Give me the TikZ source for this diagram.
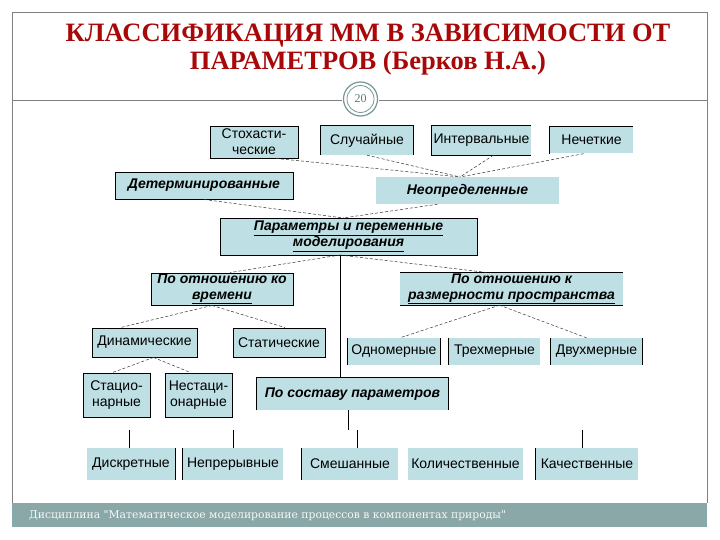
\documentclass[tikz,border=0pt]{standalone}
\usepackage{fontspec}
\setmainfont{Liberation Serif}
\newfontfamily\arialf{Liberation Sans}
\newfontfamily\footf{DejaVu Serif}
\usetikzlibrary{calc}
\definecolor{boxfill}{RGB}{190,223,227}
\definecolor{titlered}{RGB}{168,8,8}
\definecolor{framegray}{RGB}{128,128,128}
\definecolor{footcol}{RGB}{138,168,168}
\definecolor{ringcol}{RGB}{120,150,150}
\tikzset{
  x=1pt,y=-1pt,
  box/.style={fill=boxfill, inner sep=0pt, align=center, text=black,
    font=\arialf\fontsize{14}{16}\selectfont},
  bbox/.style={box, font=\arialf\bfseries\itshape\fontsize{14}{16}\selectfont},
  full/.style={draw=black, line width=0.9pt},
  side/.style={draw=black, line width=0.9pt},
  link/.style={draw=black!80, line width=0.5pt, dash pattern=on 3pt off 2pt},
  solidlink/.style={draw=black, line width=0.9pt},
  titletext/.style={font=\bfseries\fontsize{26.5}{30}\selectfont, text=titlered, inner sep=0pt, anchor=base}
}
\begin{document}
\begin{tikzpicture}
\useasboundingbox (0,0) rectangle (720,540);
\fill[white] (0,0) rectangle (720,540);

% frame
\draw[framegray, line width=0.8pt] (12,503) -- (12,12.5) -- (707,12.5) -- (707,503);
\draw[framegray, line width=0.8pt] (12,100) -- (342,100);
\draw[framegray, line width=0.8pt] (379,100) -- (707,100);
\node[circle, draw=ringcol, line width=1.2pt, minimum size=34pt, inner sep=0pt, fill=white] (pg) at (360.5,99) {};
\draw[ringcol, line width=0.8pt] (pg.center) circle (13.5pt);
\node[font=\fontsize{12}{12}\selectfont, text=ringcol!80!black] at (pg.center) {20};

% footer
\fill[footcol] (12,503) rectangle (707,527);
\node[anchor=west, font=\footf\fontsize{10.8}{12}\selectfont, text=white!92!footcol, inner sep=0pt] (foot) at (29,515.5)
  {Дисциплина "Математическое моделирование процессов в компонентах природы"};

% title
\node[titletext] (t1) at (368,42) {КЛАССИФИКАЦИЯ ММ В ЗАВИСИМОСТИ ОТ};
\node[titletext] (t2) at (368,70) {ПАРАМЕТРОВ (Берков Н.А.)};

% row 1
\node[box, full, minimum width=88pt, minimum height=32pt] (stoch) at (254,142) {Стохасти-\\ческие};
\node[box, minimum width=92pt, minimum height=29pt] (sluch) at (367,140.5) {Случайные};
\node[box, minimum width=99pt, minimum height=29pt] (interv) at (481.5,140.5) {Интервальные};
\node[box, minimum width=83pt, minimum height=27pt] (nech) at (591.5,140) {Нечеткие};

% row 2
\node[bbox, full, minimum width=178pt, minimum height=27pt] (det) at (204,185.5) {Детерминированные};
\node[bbox, minimum width=183pt, minimum height=27pt] (neopr) at (467.5,190.5) {Неопределенные};

% row 3
\node[bbox, full, minimum width=257pt, minimum height=37pt] (param) at (348.5,236.5)
  {\underline{Параметры и переменные}\\\underline{моделирования}};

% row 4
\node[bbox, full, minimum width=142pt, minimum height=32pt] (vrem) at (222,289)
  {По отношению ко\\\underline{времени}};
\node[bbox, minimum width=223pt, minimum height=32pt] (razm) at (511.5,289)
  {По отношению к\\\underline{размерности пространства}};

% row 5
\node[box, full, minimum width=105pt, minimum height=29pt] (dinam) at (144.5,342.5) {Динамические};
\node[box, full, minimum width=92pt, minimum height=29pt] (stat) at (279,342.5) {Статические};
\node[box, minimum width=92pt, minimum height=27pt] (odnom) at (394,351.5) {Одномерные};
\node[box, minimum width=91pt, minimum height=27pt] (trehm) at (494.5,351.5) {Трехмерные};
\node[box, minimum width=91pt, minimum height=27pt] (dvuhm) at (596.5,351.5) {Двухмерные};

% row 6
\node[box, full, minimum width=67pt, minimum height=44pt] (stac) at (116.5,395) {Стацио-\\нарные};
\node[box, full, minimum width=67pt, minimum height=44pt] (nestac) at (198.5,395) {Нестаци-\\онарные};
\node[bbox, minimum width=191pt, minimum height=32pt] (sostav) at (352.5,394) {По составу параметров};

% row 7
\node[box, minimum width=88pt, minimum height=32pt] (diskr) at (131,464) {Дискретные};
\node[box, minimum width=100pt, minimum height=32pt] (nepr) at (233,464) {Непрерывные};
\node[box, minimum width=96pt, minimum height=32pt] (smesh) at (350,464) {Смешанные};
\node[box, minimum width=115pt, minimum height=32pt] (kolich) at (465.5,464) {Количественные};
\node[box, minimum width=102pt, minimum height=32pt] (kach) at (587,464) {Качественные};

% partial borders
\draw[side] (sluch.south west) -- (sluch.north west) -- (sluch.north east) -- (sluch.south east);
\draw[side] (interv.north east) -- (interv.north west) -- (interv.south west) -- (interv.south east);
\draw[side] (nech.south west) -- (nech.north west) -- (nech.north east);
\draw[side] (razm.north west) -- (razm.north east);
\draw[side] (razm.south west) -- (razm.south east);
\draw[side] (odnom.north west) -- (odnom.south west);
\draw[side] (odnom.north east) -- (odnom.south east);
\draw[side] (trehm.north west) -- (trehm.south west);
\draw[side] (dvuhm.north west) -- (dvuhm.south west);
\draw[side] (dvuhm.north east) -- (dvuhm.south east);
\draw[side] (sostav.south west) -- (sostav.north west) -- (sostav.north east) -- (sostav.south east);
\draw[side] (diskr.north east) -- (diskr.south east);
\draw[side] (nepr.north west) -- (nepr.south west);
\draw[side] (smesh.north west) -- (smesh.south west);
\draw[side] (kach.north west) -- (kach.south west);

% dashed connectors
\coordinate (c1) at (460,177);
\draw[link] ([xshift=22pt]stoch.south) -- (c1);
\draw[link] (sluch.south) -- (c1);
\draw[link] ([xshift=12pt]interv.south) -- (c1);
\draw[link] ([xshift=-8pt]nech.south) -- (c1);

\coordinate (c2) at (343,218);
\draw[link] (det.south) -- (c2);
\draw[link] ([xshift=-30pt]neopr.south) -- (c2);

\coordinate (c3) at (340,255);
\draw[link] (c3) -- ([xshift=8pt]vrem.north);
\draw[link] (c3) -- ([xshift=-22pt]razm.north);

\draw[link] ([xshift=-10pt]vrem.south) -- ([xshift=-24pt]dinam.north);
\draw[link] ([xshift=-10pt]vrem.south) -- ([xshift=6pt]stat.north);

\draw[link] ([xshift=9pt]dinam.south) -- ([xshift=-4pt]stac.north);
\draw[link] ([xshift=9pt]dinam.south) -- ([xshift=-8pt]nestac.north);

\draw[link] ([xshift=-12pt]razm.south) -- ([xshift=6pt]odnom.north);
\draw[link] ([xshift=-12pt]razm.south) -- ([xshift=-10pt]dvuhm.north);

% solid connectors
\draw[solidlink] (c3) -- (sostav.north -| c3);
\coordinate (s0) at (348,430);
\draw[solidlink] (sostav.south -| s0) -- (s0);
\coordinate (s1) at (129,430);
\coordinate (s2) at (233,430);
\coordinate (s3) at (357,430);
\coordinate (s4) at (582,430);
\draw[solidlink] (s1) -- (diskr.north -| s1);
\draw[solidlink] (s2) -- (nepr.north -| s2);
\draw[solidlink] (s3) -- (smesh.north -| s3);
\draw[solidlink] (s4) -- (kach.north -| s4);
\end{tikzpicture}
\end{document}
